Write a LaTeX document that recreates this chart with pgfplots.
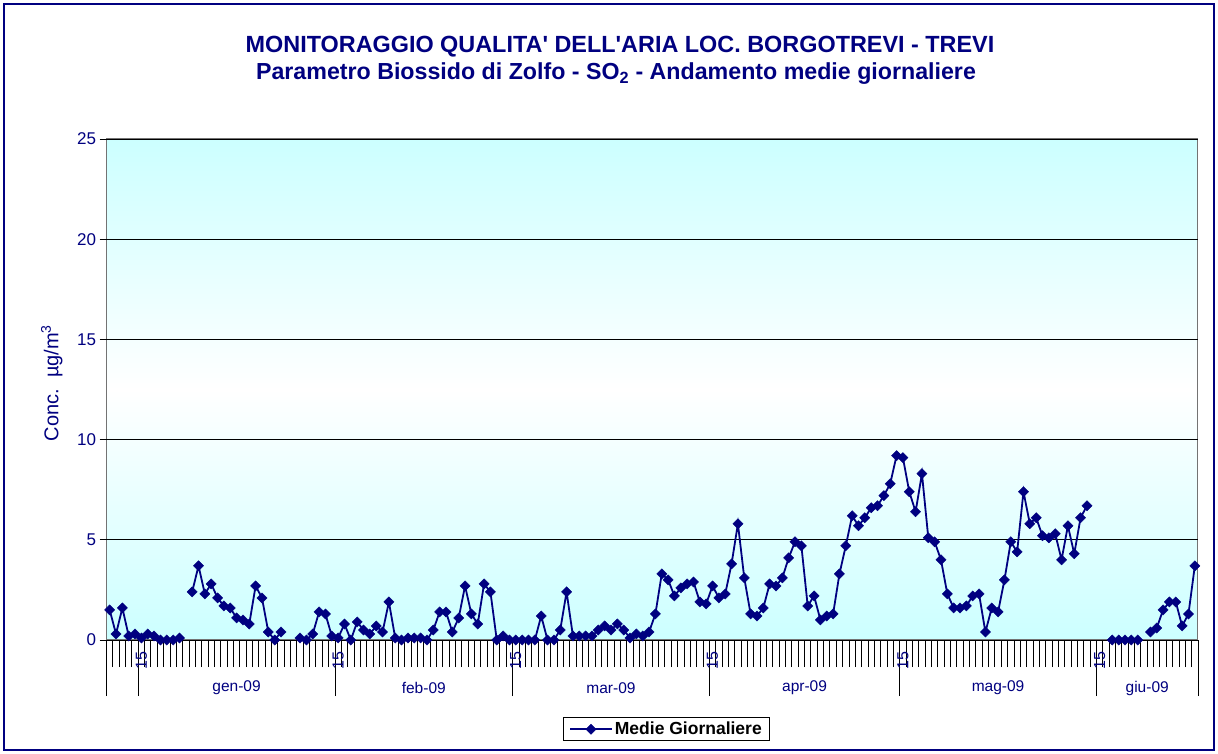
\documentclass[border=0pt]{standalone}
\usepackage{pgfplots}
\usepackage{pgfplotstable}
\pgfplotsset{compat=1.18}
\usepackage{fontspec}
\setmainfont{Liberation Sans}
\definecolor{navy}{RGB}{0,0,128}
\definecolor{cyanbg}{RGB}{204,255,255}

\pgfplotstableread{
n v
1 1.5
2 0.3
3 1.6
4 0.2
5 0.3
6 0.1
7 0.3
8 0.2
9 0
10 0
11 0
12 0.1
13 nan
14 2.4
15 3.7
16 2.3
17 2.8
18 2.1
19 1.7
20 1.6
21 1.1
22 1.0
23 0.8
24 2.7
25 2.1
26 0.4
27 0
28 0.4
29 nan
30 nan
31 0.1
32 0
33 0.3
34 1.4
35 1.3
36 0.2
37 0.1
38 0.8
39 0
40 0.9
41 0.5
42 0.3
43 0.7
44 0.4
45 1.9
46 0.1
47 0
48 0.1
49 0.1
50 0.1
51 0
52 0.5
53 1.4
54 1.4
55 0.4
56 1.1
57 2.7
58 1.3
59 0.8
60 2.8
61 2.4
62 0
63 0.2
64 0
65 0
66 0
67 0
68 0
69 1.2
70 0
71 0
72 0.5
73 2.4
74 0.2
75 0.2
76 0.2
77 0.2
78 0.5
79 0.7
80 0.5
81 0.8
82 0.5
83 0.1
84 0.3
85 0.2
86 0.4
87 1.3
88 3.3
89 3.0
90 2.2
91 2.6
92 2.8
93 2.9
94 1.9
95 1.8
96 2.7
97 2.1
98 2.3
99 3.8
100 5.8
101 3.1
102 1.3
103 1.2
104 1.6
105 2.8
106 2.7
107 3.1
108 4.1
109 4.9
110 4.7
111 1.7
112 2.2
113 1.0
114 1.2
115 1.3
116 3.3
117 4.7
118 6.2
119 5.7
120 6.1
121 6.6
122 6.7
123 7.2
124 7.8
125 9.2
126 9.1
127 7.4
128 6.4
129 8.3
130 5.1
131 4.9
132 4.0
133 2.3
134 1.6
135 1.6
136 1.7
137 2.2
138 2.3
139 0.4
140 1.6
141 1.4
142 3.0
143 4.9
144 4.4
145 7.4
146 5.8
147 6.1
148 5.2
149 5.1
150 5.3
151 4.0
152 5.7
153 4.3
154 6.1
155 6.7
156 nan
157 nan
158 nan
159 0
160 0
161 0
162 0
163 0
164 nan
165 0.4
166 0.6
167 1.5
168 1.9
169 1.9
170 0.7
171 1.3
172 3.7
}\datatable

\begin{document}
\begin{tikzpicture}
\useasboundingbox (0,0) rectangle (1218pt,754pt);
\fill[white] (0,0) rectangle (1218pt,754pt);
\begin{axis}[
  at={(106.5pt,114pt)}, anchor=south west,
  width=1091.5pt, height=501pt, scale only axis,
  xmin=0.5, xmax=172.5, ymin=0, ymax=25,
  clip=false,
  unbounded coords=jump,
  axis background/.style={top color=cyanbg, bottom color=cyanbg, middle color=white},
  axis line style={draw=black!55, line width=1pt},
  grid style={black, line width=0.9pt},
  ytick=\empty,
  extra y ticks={0,5,10,15,20,25},
  extra y tick style={major tick length=7pt, grid=major},
  ytick pos=left, xtick pos=bottom,
  tick align=outside,
  yticklabel style={navy, font=\fontsize{17}{19}\selectfont},
  /pgf/number format/assume math mode=true,
  major tick length=56pt, minor tick length=27pt,
  tick style={black, line width=0.9pt},
  xtick={0.5,5.5,36.5,64.5,95.5,125.5,156.5,172.5},
  xticklabels={},
  minor xtick={0.5,1.5,...,172.5},
  extra x ticks={6,37,65,96,126,157},
  extra x tick labels={15,15,15,15,15,15},
  extra x tick style={major tick length=0pt, xticklabel style={rotate=90, anchor=east, navy, font=\fontsize{16}{18}\selectfont, yshift=0pt, xshift=-8pt}},
  ylabel={Conc.\ \ µg/m\textsuperscript{3}},
  ylabel style={at={(axis description cs:-0.05,0.513)}, anchor=center, navy, font=\fontsize{20}{22}\selectfont},
  legend style={at={(rel axis cs:0.513,-0.178)}, anchor=center, draw=black, line width=0.8pt, fill=white, font=\fontsize{17.5}{20}\selectfont\bfseries, inner xsep=6pt, inner ysep=2.5pt},
  legend image code/.code={\draw[mark repeat=2, mark phase=2, #1] plot coordinates {(0pt,0pt) (21pt,0pt) (42pt,0pt)};},
]
\addplot[navy, line width=1.8pt, mark=square*, mark size=3.6pt, mark options={rotate=45, fill=navy, draw=navy, line width=0.4pt, solid}] table[x=n, y=v] {\datatable};
\addlegendentry{Medie Giornaliere}
\node[navy, font=\fontsize{15.5}{17}\selectfont] at (axis cs:21,0) [yshift=-48pt] {gen-09};
\node[navy, font=\fontsize{15.5}{17}\selectfont] at (axis cs:50.5,0) [yshift=-48pt] {feb-09};
\node[navy, font=\fontsize{15.5}{17}\selectfont] at (axis cs:80,0) [yshift=-48pt] {mar-09};
\node[navy, font=\fontsize{15.5}{17}\selectfont] at (axis cs:110.5,0) [yshift=-48pt] {apr-09};
\node[navy, font=\fontsize{15.5}{17}\selectfont] at (axis cs:141,0) [yshift=-48pt] {mag-09};
\node[navy, font=\fontsize{15.5}{17}\selectfont] at (axis cs:164.5,0) [yshift=-48pt] {giu-09};
\end{axis}
\draw[navy, line width=2pt] (4pt,4pt) rectangle (1214pt,750pt);
\node[navy, font=\fontsize{23.4}{27}\selectfont\bfseries] at (620pt,707pt) {MONITORAGGIO QUALITA\textquotesingle{} DELL\textquotesingle{}ARIA LOC. BORGOTREVI - TREVI};
\node[navy, font=\fontsize{23.2}{27}\selectfont\bfseries] at (616pt,680pt) {Parametro Biossido di Zolfo - SO\textsubscript{2} - Andamento medie giornaliere};
\end{tikzpicture}
\end{document}
